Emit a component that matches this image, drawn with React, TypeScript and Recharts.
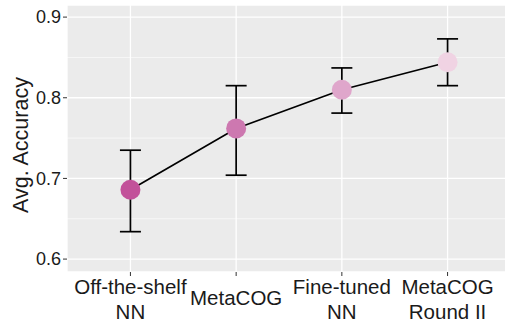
import {
  ComposedChart, Line, ErrorBar, XAxis, YAxis, CartesianGrid, ReferenceLine,
} from 'recharts';

const FONT = '"Liberation Sans", Arial, Helvetica, sans-serif';
const TEXT = '#1a1a1a';

// methods in plotted order
const methods = [['Off-the-shelf', 'NN'], ['MetaCOG'], ['Fine-tuned', 'NN'], ['MetaCOG', 'Round II']];
const accuracy = [0.686, 0.762, 0.81, 0.844];
const lower = [0.634, 0.704, 0.781, 0.815];
const upper = [0.735, 0.815, 0.837, 0.873];
const pointColors = ['#C2519A', '#CD78B0', '#DFA6CB', '#F0D3E3'];

const yTicks = [0.6, 0.7, 0.8, 0.9];
const yMinor = [0.65, 0.75, 0.85];

const data = accuracy.map((v, i) => ({
  x: i + 1,
  acc: v,
  err: [v - lower[i], upper[i] - v],
  color: pointColors[i],
}));

function XTick(props: any) {
  const { x, payload } = props;
  const lines = methods[payload.value - 1] ?? [];
  // baselines in px (panel bottom is at 272)
  const base = lines.length === 1 ? [305] : [293.5, 318.5];
  return (
    <g>
      {lines.map((t, i) => (
        <text key={i} x={x} y={base[i]} textAnchor="middle"
              fontSize={20.5} fontFamily={FONT} fill={TEXT}>{t}</text>
      ))}
    </g>
  );
}

function Dot(props: any) {
  const { cx, cy, payload } = props;
  if (cx == null || cy == null) return null;
  return <circle cx={cx} cy={cy} r={10} fill={payload.color} stroke="none" />;
}

export default function App() {
  return (
    <div style={{ position: 'fixed', top: 0, left: 0, width: 505, height: 324, overflow: 'hidden', background: '#fff' }}>
      <ComposedChart width={512} height={324} data={data}
                     margin={{ top: 5, right: 1, bottom: 0, left: 0 }}>
        <CartesianGrid fill="#EBEBEB" stroke="#fff" strokeWidth={1.3} />
        {yMinor.map(v => (
          <ReferenceLine key={v} y={v} stroke="#fff" strokeWidth={0.6} />
        ))}
        <XAxis type="number" dataKey="x" domain={[0.4, 4.6]} ticks={[1, 2, 3, 4]}
               allowDataOverflow height={52} axisLine={false}
               tickLine={{ stroke: '#333', strokeWidth: 1 }} tickSize={4}
               tick={<XTick />} interval={0} />
        <YAxis type="number" domain={[0.584, 0.915]} ticks={yTicks} allowDataOverflow
               width={67} axisLine={false} tickSize={4} tickMargin={2}
               tickLine={{ stroke: '#333', strokeWidth: 1 }}
               tickFormatter={(v: number) => v.toFixed(1)}
               tick={{ fill: TEXT, fontSize: 18, fontFamily: FONT }}
               label={{
                 content: () => (
                   <text x={28} y={145} transform="rotate(-90 28 145)" textAnchor="middle"
                         fontSize={21.5} fontFamily={FONT} fill={TEXT}>Avg. Accuracy</text>
                 ),
               }} />
        <Line type="linear" dataKey="acc" stroke="#000" strokeWidth={1.7}
              dot={<Dot />} activeDot={false} isAnimationActive={false}>
          <ErrorBar dataKey="err" direction="y" width={10.5} stroke="#000" strokeWidth={1.7}
                    isAnimationActive={false} />
        </Line>
      </ComposedChart>
    </div>
  );
}
